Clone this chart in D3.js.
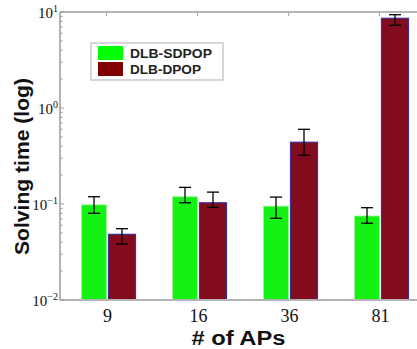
<!DOCTYPE html>
<html><head><meta charset="utf-8">
<script src="https://cdn.jsdelivr.net/npm/d3@7"></script>
<style>body{margin:0;background:#fff;}svg{display:block;}</style>
</head><body>
<script>
const categories = ["9", "16", "36", "81"];
const seriesNames = ["DLB-SDPOP", "DLB-DPOP"];
const sdpop = [0.098, 0.119, 0.095, 0.075];
const sdpopLow = [0.080, 0.103, 0.071, 0.063];
const sdpopHigh = [0.119, 0.149, 0.118, 0.0915];
const dpop = [0.0483, 0.103, 0.44, 8.6];
const dpopLow = [0.0383, 0.0924, 0.321, 7.26];
const dpopHigh = [0.0553, 0.133, 0.60, 9.37];
const yTickExps = [-2, -1, 0, 1];

(function () {
const W = 417, H = 349;
const svg = d3.select("body").append("svg").attr("width", W).attr("height", H);
const pLeft = 60, pTop = 12, pBottom = 300;

const y = d3.scaleLog().domain([0.01, 10]).range([pBottom, pTop]);
const x = d3.scaleLinear().domain([0.5, 4.5]).range([63, 427]);
const colors = ["#14f214", "#820c1e"];

svg.append("defs").append("clipPath").attr("id", "clip")
  .append("rect").attr("x", pLeft).attr("y", pTop).attr("width", W - pLeft).attr("height", pBottom - pTop);
const bars = svg.append("g").attr("clip-path", "url(#clip)");

const series = [
  {vals: sdpop, lo: sdpopLow, hi: sdpopHigh, off: -27, w: 25},
  {vals: dpop, lo: dpopLow, hi: dpopHigh, off: 0, w: 27}
];
series.forEach((s, si) => {
  const g = bars.append("g");
  g.selectAll("rect").data(s.vals).join("rect")
    .attr("x", (d, i) => x(i + 1) + s.off)
    .attr("y", d => y(d))
    .attr("width", s.w)
    .attr("height", d => y(0.01) - y(d))
    .attr("fill", colors[si])
    .attr("stroke", si === 1 ? "#3a2f9a" : "#9af59a")
    .attr("stroke-width", si === 1 ? 1.2 : 0.8);
  const cx = i => x(i + 1) + s.off + s.w / 2;
  const eg = g.append("g").attr("stroke", "#000").attr("stroke-width", 1.3);
  eg.selectAll(".v").data(s.vals).join("line").attr("class", "v")
    .attr("x1", (d, i) => cx(i)).attr("x2", (d, i) => cx(i))
    .attr("y1", (d, i) => y(s.hi[i])).attr("y2", (d, i) => y(s.lo[i]));
  eg.selectAll(".h").data(s.vals).join("line").attr("class", "h")
    .attr("x1", (d, i) => cx(i) - 6).attr("x2", (d, i) => cx(i) + 6)
    .attr("y1", (d, i) => y(s.hi[i])).attr("y2", (d, i) => y(s.hi[i]));
  eg.selectAll(".l").data(s.vals).join("line").attr("class", "l")
    .attr("x1", (d, i) => cx(i) - 6).attr("x2", (d, i) => cx(i) + 6)
    .attr("y1", (d, i) => y(s.lo[i])).attr("y2", (d, i) => y(s.lo[i]));
});

// Frame
const frame = svg.append("g").attr("stroke", "#b4b4b4").attr("stroke-width", 2).attr("fill", "none");
frame.append("line").attr("x1", pLeft).attr("x2", W).attr("y1", pTop).attr("y2", pTop);
frame.append("line").attr("x1", pLeft).attr("x2", W).attr("y1", pBottom).attr("y2", pBottom);
frame.append("line").attr("x1", pLeft).attr("x2", pLeft).attr("y1", pTop).attr("y2", pBottom);

// Minor y ticks
const minor = [];
for (let e = -2; e < 1; e++) for (let m = 2; m <= 9; m++) minor.push(m * Math.pow(10, e));
svg.append("g").selectAll("line").data(minor).join("line")
  .attr("x1", pLeft).attr("x2", pLeft + 2.5)
  .attr("y1", d => y(d)).attr("y2", d => y(d))
  .attr("stroke", "#999").attr("stroke-width", 1);
svg.append("g").selectAll("line").data(yTickExps).join("line")
  .attr("x1", pLeft).attr("x2", pLeft + 4)
  .attr("y1", d => y(Math.pow(10, d))).attr("y2", d => y(Math.pow(10, d)))
  .attr("stroke", "#999").attr("stroke-width", 1);
// Top x ticks
svg.append("g").selectAll("line").data(categories).join("line")
  .attr("x1", (d, i) => x(i + 1) - 2).attr("x2", (d, i) => x(i + 1) - 2)
  .attr("y1", pTop).attr("y2", pTop + 4)
  .attr("stroke", "#aaa").attr("stroke-width", 1.2);

// Y tick labels
const yl = svg.append("g").attr("font-family", "'Liberation Serif','Times New Roman',serif").attr("fill", "#111");
yTickExps.forEach(e => {
  const t = yl.append("text").attr("x", 58).attr("y", y(Math.pow(10, e)) + 6)
    .attr("text-anchor", "end").attr("font-size", 15);
  t.append("tspan").text("10");
  t.append("tspan").attr("dy", -6).attr("font-size", 10).text(e < 0 ? "\u2212" + (-e) : String(e));
});

// X tick labels
svg.append("g").selectAll("text").data(categories).join("text")
  .attr("x", (d, i) => x(i + 1) - 1).attr("y", 321.5)
  .attr("text-anchor", "middle")
  .attr("font-family", "'Liberation Serif','Times New Roman',serif")
  .attr("font-size", 18).attr("fill", "#111")
  .text(d => d);

// Axis titles
svg.append("text").attr("x", 191.5).attr("y", 344.5)
  .attr("font-family", "'Liberation Sans',Arial,sans-serif").attr("font-weight", "bold")
  .attr("font-size", 20).attr("fill", "#111")
  .attr("textLength", 94).attr("lengthAdjust", "spacingAndGlyphs").text("# of APs");
svg.append("text").attr("transform", "translate(29,255) rotate(-90)")
  .attr("font-family", "'Liberation Sans',Arial,sans-serif").attr("font-weight", "bold")
  .attr("font-size", 20).attr("fill", "#111")
  .attr("textLength", 177).attr("lengthAdjust", "spacingAndGlyphs").text("Solving time (log)");

// Legend
const lg = svg.append("g");
lg.append("rect").attr("x", 91).attr("y", 43).attr("width", 132).attr("height", 37)
  .attr("fill", "#fff").attr("stroke", "#bbb").attr("stroke-width", 1.2);
seriesNames.forEach((n, i) => {
  lg.append("rect").attr("x", 98).attr("y", 46 + i * 16).attr("width", 25).attr("height", 14)
    .attr("fill", i === 0 ? "#00ff00" : "#800000");
  lg.append("text").attr("x", 130).attr("y", 58 + i * 16)
    .attr("font-family", "'Liberation Sans',Arial,sans-serif").attr("font-weight", "bold")
    .attr("font-size", 12.5).attr("fill", "#222")
    .attr("textLength", i === 0 ? 82 : 71).attr("lengthAdjust", "spacingAndGlyphs")
    .text(n);
});
})();
</script>
</body></html>
